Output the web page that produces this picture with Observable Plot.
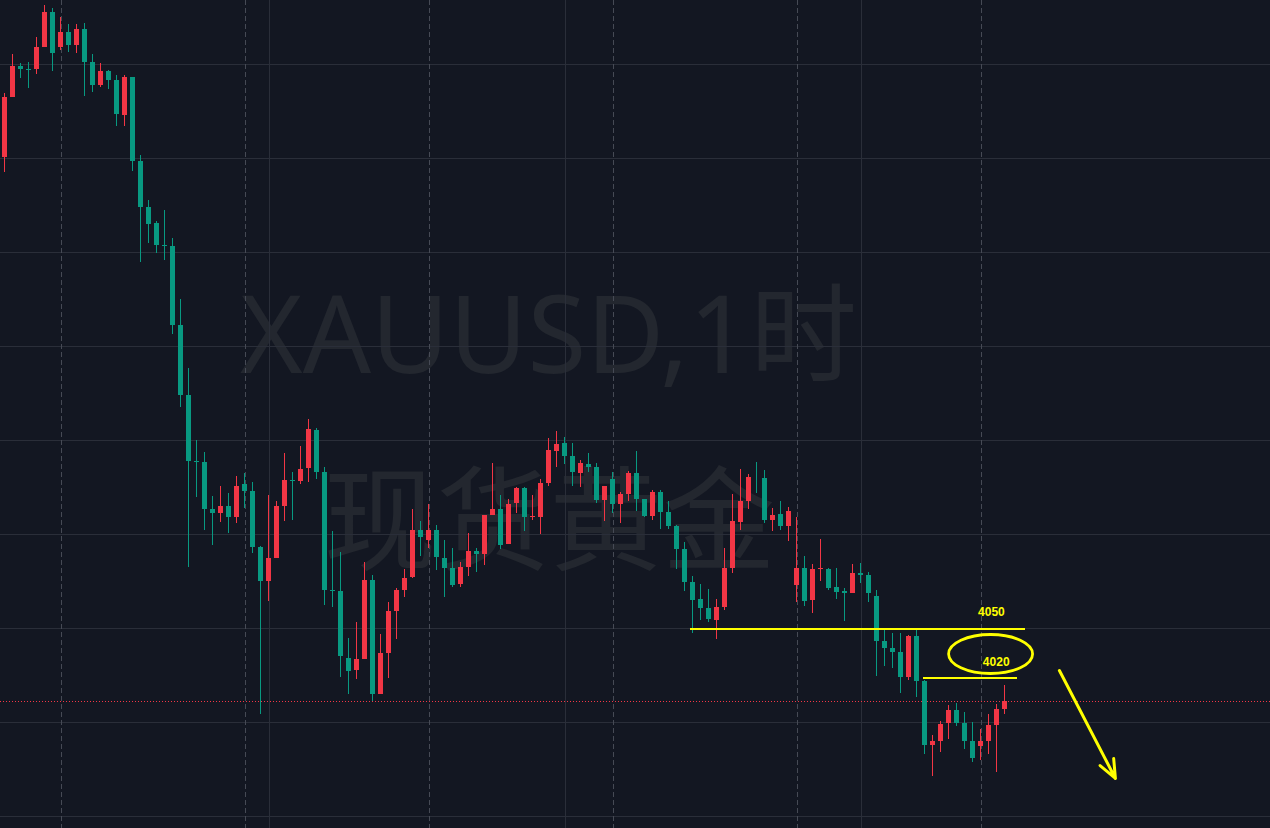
<!DOCTYPE html>
<html><head><meta charset="utf-8">
<script src="https://cdn.jsdelivr.net/npm/d3@7"></script>
<script src="https://cdn.jsdelivr.net/npm/@observablehq/plot@0.6"></script>
<style>html,body{margin:0;padding:0;background:#131722;overflow:hidden}</style>
</head><body><div id="chart"></div>
<script>
// XAUUSD 1h candles (price)
const open = [
4300.9,4332.8,4349.1,4347.5,4347.5,4359.2,4377.8,4359.2,4367.2,4360.3,
4368.8,4351.2,4339.0,4346.4,4341.6,4323.0,4343.2,4298.6,4274.1,4265.6,
4253.9,4253.4,4211.3,4174.1,4139.0,4138.5,4113.5,4111.3,4115.1,4109.2,
4126.8,4123.0,4093.2,4075.2,4087.4,4115.1,4128.9,4128.4,4135.3,4155.5,
4133.1,4070.4,4069.8,4034.2,4027.8,4033.7,4075.7,4015.1,4036.9,4059.2,
4070.4,4077.3,4102.3,4097.0,4102.3,4087.4,4082.1,4073.6,4082.6,4091.1,
4089.5,4110.3,4113.5,4094.8,4116.6,4124.6,4109.2,4109.2,4127.3,4144.3,
4148.6,4141.6,4132.6,4137.4,4135.8,4118.2,4129.4,4116.1,4121.4,4132.6,
4118.8,4109.7,4122.5,4111.9,4104.4,4092.2,4074.6,4065.6,4060.8,4054.4,
4061.3,4082.1,4106.5,4117.7,4130.2,4129.9,4107.6,4110.8,4104.4,4073.0,
4082.1,4065.1,4081.8,4081.5,4072.0,4069.6,4068.8,4079.4,4078.4,4067.2,
4043.2,4039.5,4037.4,4024.1,4045.9,4022.0,3987.9,3990.1,3999.6,4006.5,
3999.6,3990.1,3987.4,3990.1,3998.6,4007.1];
const high = [
4334.6,4355.5,4350.7,4351.2,4364.5,4381.5,4379.9,4375.2,4371.4,4371.4,
4372.0,4355.5,4350.7,4347.0,4344.3,4344.3,4343.2,4301.8,4277.8,4266.6,
4272.5,4257.6,4225.2,4188.5,4150.2,4143.8,4120.4,4125.7,4122.0,4131.0,
4132.6,4127.8,4093.8,4120.9,4117.7,4143.2,4133.1,4147.0,4161.3,4156.5,
4135.8,4101.8,4090.6,4044.8,4053.4,4085.3,4078.4,4047.0,4064.0,4071.4,
4081.5,4113.5,4107.1,4116.1,4104.9,4097.0,4092.7,4085.3,4100.7,4092.7,
4110.3,4137.9,4120.9,4118.8,4125.2,4125.2,4120.9,4129.4,4151.2,4154.9,
4151.7,4148.6,4139.5,4143.2,4137.9,4125.7,4133.1,4122.5,4133.7,4144.3,
4118.8,4123.6,4123.6,4117.7,4104.9,4095.9,4077.8,4073.6,4070.9,4065.6,
4092.7,4121.4,4134.7,4132.1,4138.5,4134.2,4114.0,4117.7,4114.5,4109.2,
4088.5,4084.2,4097.5,4082.1,4082.1,4071.4,4084.2,4084.7,4079.9,4070.4,
4049.1,4047.5,4047.5,4046.4,4049.1,4022.5,3993.2,4000.7,4009.2,4010.3,
4005.5,4000.2,3996.4,4004.4,4009.7,4019.8];
const low = [
4292.9,4332.8,4342.7,4337.4,4344.8,4359.2,4346.4,4357.6,4356.5,4356.0,
4333.1,4335.3,4337.9,4336.9,4317.2,4317.2,4293.2,4244.8,4254.9,4249.6,
4245.9,4206.5,4167.7,4082.6,4119.8,4102.3,4094.3,4106.5,4100.7,4106.0,
4114.0,4090.1,4004.4,4064.5,4087.4,4107.1,4107.6,4126.8,4127.8,4129.4,
4062.4,4061.3,4024.1,4015.1,4023.0,4033.7,4011.3,4015.1,4023.6,4044.3,
4066.7,4076.8,4088.5,4092.7,4081.0,4066.7,4072.0,4072.0,4077.8,4079.9,
4083.7,4110.3,4092.2,4094.8,4111.3,4101.8,4107.6,4100.2,4125.7,4135.8,
4137.4,4125.7,4125.2,4133.1,4116.6,4107.1,4111.3,4106.0,4117.7,4112.4,
4109.2,4107.6,4102.8,4102.8,4081.5,4069.8,4047.5,4054.4,4053.4,4044.3,
4059.7,4079.4,4102.3,4113.5,4122.0,4106.0,4101.8,4102.3,4096.4,4064.0,
4061.9,4058.1,4075.2,4070.4,4065.6,4053.9,4068.8,4074.1,4064.0,4024.6,
4029.9,4028.9,4015.6,4022.5,4013.5,3983.1,3971.4,3984.2,3991.1,3998.0,
3985.8,3978.9,3979.9,3983.1,3973.6,4004.4];
const close = [
4332.6,4349.1,4347.5,4347.1,4359.2,4377.8,4356.2,4367.2,4360.3,4368.8,
4351.2,4339.0,4346.4,4341.6,4323.6,4343.2,4298.6,4274.1,4265.1,4253.9,
4253.4,4211.3,4174.1,4139.0,4138.5,4113.5,4111.3,4115.1,4109.2,4125.7,
4123.0,4093.2,4075.2,4087.4,4115.1,4128.9,4128.4,4134.7,4156.0,4133.1,
4070.4,4069.8,4035.3,4027.3,4033.7,4075.7,4015.1,4036.9,4059.2,4070.4,
4076.8,4102.3,4098.6,4102.3,4087.9,4082.1,4073.0,4082.6,4091.1,4089.5,
4110.3,4113.5,4094.3,4116.1,4124.6,4109.2,4109.7,4127.3,4144.8,4148.0,
4141.6,4133.1,4137.9,4135.8,4118.2,4125.7,4116.1,4121.4,4132.6,4118.8,
4109.7,4122.5,4111.9,4104.4,4092.2,4074.6,4065.1,4060.8,4054.9,4061.3,
4082.1,4107.1,4117.7,4130.5,4129.7,4107.6,4110.3,4104.4,4112.4,4082.1,
4064.5,4081.5,4082.3,4071.4,4069.3,4069.0,4079.4,4078.4,4068.8,4043.2,
4039.5,4037.4,4024.1,4045.9,4022.0,3987.9,3990.1,3999.1,4006.5,3999.6,
3990.1,3981.0,3990.1,3998.6,4007.1,4011.3];

const priceGrid = [3950,4000,4050,4100,4150,4200,4250,4300,4350];
const sessionBreaks = [7,30,53,76,99,122];   // dashed verticals (bar index)
const timeGrid = [33,70,107];                // solid verticals (bar index)
const lastPrice = 4011.3;
const levels = [{x1:85.7,x2:127.6,price:4050},{x1:114.8,x2:126.5,price:4023.9}];
const levelLabels = [{x:123.3,price:4058.7,text:"4050"},{x:123.9,price:4032.1,text:"4020"}];
const ellipseMark = [{x:123.2,price:4036.6}];
const arrowMark = [{x1:131.8,p1:4027.8,x2:138.8,p2:3970.4}];
const watermark = ["XAUUSD,1时","现货黄金"];

const UP = "#f23645", DOWN = "#089981", YEL = "#ffff00";
const candles = open.map((o,i)=>({i, o, h:high[i], l:low[i], c:close[i], up: close[i] >= o}));

const ellipseSymbol = {
  draw(ctx, size) {
    const rx = Math.sqrt(size/Math.PI), ry = rx*0.464, k = 0.5523;
    ctx.moveTo(rx,0);
    ctx.bezierCurveTo(rx, ry*k, rx*k, ry, 0, ry);
    ctx.bezierCurveTo(-rx*k, ry, -rx, ry*k, -rx, 0);
    ctx.bezierCurveTo(-rx, -ry*k, -rx*k, -ry, 0, -ry);
    ctx.bezierCurveTo(rx*k, -ry, rx, -ry*k, rx, 0);
    ctx.closePath();
  }
};

const wmFont = "'Noto Sans','Noto Sans CJK SC',sans-serif";
const chart = Plot.plot({
  width: 1270, height: 828, margin: 0,
  style: {background: "#131722", overflow: "visible"},
  x: {domain: [-0.5625, 158.1875], axis: null},
  y: {domain: [3943.78, 4384.2], axis: null},
  marks: [
    Plot.text([watermark[0]], {frameAnchor: "middle", text: d => d, dx: -87, dy: -76, fontSize: 107, fill: "#23272f", fontFamily: wmFont}),
    Plot.text([watermark[1]], {frameAnchor: "middle", text: d => d, dx: -86, dy: 110, fontSize: 113, fill: "#23272f", fontFamily: "'Noto Sans CJK SC',sans-serif"}),
    Plot.ruleY(priceGrid, {stroke: "#2a2e39", strokeWidth: 1, shapeRendering: "crispEdges"}),
    Plot.ruleX(timeGrid, {stroke: "#2a2e39", strokeWidth: 1, shapeRendering: "crispEdges"}),
    Plot.ruleX(sessionBreaks, {stroke: "#464a55", strokeWidth: 1, strokeDasharray: "5,3", shapeRendering: "crispEdges"}),
    Plot.ruleY([lastPrice], {stroke: UP, strokeWidth: 1, strokeDasharray: "1,2", shapeRendering: "crispEdges"}),
    Plot.ruleX(candles, {x: "i", y1: "l", y2: "h", stroke: d => d.up ? UP : DOWN, strokeWidth: 1, dx: -0.5, shapeRendering: "crispEdges"}),
    Plot.rect(candles, {x1: d => d.i - 0.3125, x2: d => d.i + 0.3125, y1: "o", y2: "c", fill: d => d.up ? UP : DOWN, shapeRendering: "crispEdges"}),
    Plot.ruleY(levels, {y: "price", x1: "x1", x2: "x2", stroke: YEL, strokeWidth: 2, shapeRendering: "crispEdges"}),
    Plot.dot(ellipseMark, {x: "x", y: "price", r: 42, symbol: ellipseSymbol, stroke: YEL, strokeWidth: 2.8, fill: "none"}),
    Plot.text(levelLabels, {x: "x", y: "price", text: "text", fill: YEL, fontSize: 12, fontWeight: "bold", fontFamily: "'Liberation Sans',Arial,sans-serif"}),
    Plot.arrow(arrowMark, {x1: "x1", y1: "p1", x2: "x2", y2: "p2", stroke: YEL, strokeWidth: 3, headLength: 10, headAngle: 45})
  ]
});
document.getElementById("chart").appendChild(chart);
</script>
</body></html>
